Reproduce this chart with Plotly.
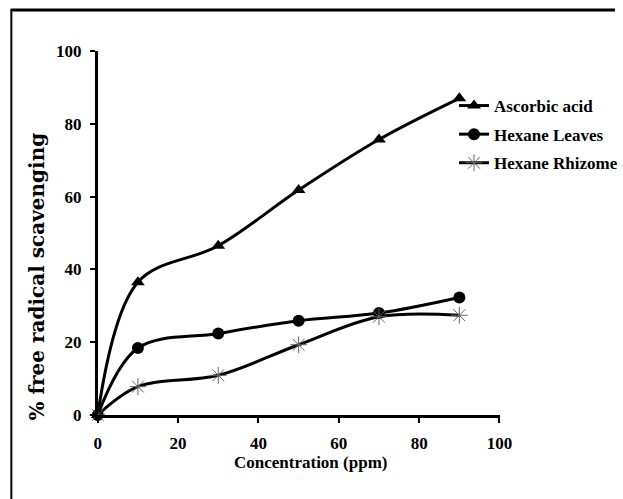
import plotly.graph_objects as go

# ---- data ----
conc = [0, 10, 30, 50, 70, 90]
ascorbic_acid = [0, 36.5, 46.5, 61.8, 75.7, 87.0]
hexane_leaves = [0, 18.4, 22.4, 25.9, 28.0, 32.3]
hexane_rhizome = [0, 7.8, 10.9, 19.3, 27.0, 27.4]
x_ticks = [0, 20, 40, 60, 80, 100]
y_ticks = [0, 20, 40, 60, 80, 100]
series_names = ["Ascorbic acid", "Hexane Leaves", "Hexane Rhizome"]

W, H = 623, 499
PL, PR, PT, PB = 99, 506, 51, 415  # plot area in pixels

def fx(p):
    return p / W

def fy(p):
    return (H - p) / H

FONT = "Liberation Serif, Times New Roman, serif"

fig = go.Figure()

fig.add_trace(go.Scatter(
    x=conc, y=ascorbic_acid, name=series_names[0], mode="lines+markers",
    line=dict(color="black", width=3, shape="spline", smoothing=1),
    marker=dict(symbol="triangle-up", size=12, color="black"),
    cliponaxis=False, legendgroup="a"))
fig.add_trace(go.Scatter(
    x=conc, y=hexane_leaves, name=series_names[1], mode="lines+markers",
    line=dict(color="black", width=3, shape="spline", smoothing=1),
    marker=dict(symbol="circle", size=12, color="black"),
    cliponaxis=False, legendgroup="b"))
fig.add_trace(go.Scatter(
    x=conc, y=hexane_rhizome, name=series_names[2], mode="lines+markers",
    line=dict(color="black", width=3, shape="spline", smoothing=1),
    marker=dict(symbol="asterisk-open", size=14, color="#666666",
                line=dict(color="#666666", width=1)),
    cliponaxis=False, legendgroup="c"))

axis_common = dict(
    showgrid=False, zeroline=False, showline=True, linecolor="black", linewidth=2.5,
    ticks="outside", ticklen=5, tickwidth=2, tickcolor="black", automargin=False,
    tickfont=dict(family=FONT, size=17, color="black", weight="bold"),
)

fig.update_xaxes(range=[0, 100], tickvals=x_ticks, ticklabelstandoff=6,
                 domain=[fx(PL), fx(PR)], **axis_common)
fig.update_yaxes(range=[0, 100], tickvals=y_ticks, ticklabelstandoff=5,
                 domain=[fy(PB), fy(PT)], **axis_common)

fig.update_layout(
    width=W, height=H, autosize=False,
    margin=dict(l=0, r=0, t=0, b=0, pad=0),
    plot_bgcolor="white", paper_bgcolor="white",
    showlegend=True,
    legend=dict(x=fx(460), y=fy(88), xanchor="left", yanchor="top",
                bgcolor="rgba(0,0,0,0)", borderwidth=0, tracegroupgap=3.5,
                font=dict(family=FONT, size=17, color="black", weight="bold")),
    annotations=[
        dict(text="Concentration (ppm)", xref="paper", yref="paper",
             x=fx(315), y=fy(462), xanchor="center", yanchor="middle",
             showarrow=False, font=dict(family=FONT, size=17, color="black", weight="bold")),
        dict(text="% free radical scavenging", xref="paper", yref="paper",
             x=fx(37), y=fy(277), xanchor="center", yanchor="middle", textangle=-90,
             showarrow=False, font=dict(family="DejaVu Serif, serif", size=20,
                                        color="black", weight="bold")),
    ],
    shapes=[
        dict(type="line", xref="paper", yref="paper", x0=fx(11), x1=fx(623),
             y0=fy(10), y1=fy(10), line=dict(color="black", width=3)),
        dict(type="line", xref="paper", yref="paper", x0=fx(11.5), x1=fx(11.5),
             y0=fy(9), y1=fy(499), line=dict(color="black", width=2)),
    ],
)

fig.write_html("out.html", config={"displayModeBar": False})
